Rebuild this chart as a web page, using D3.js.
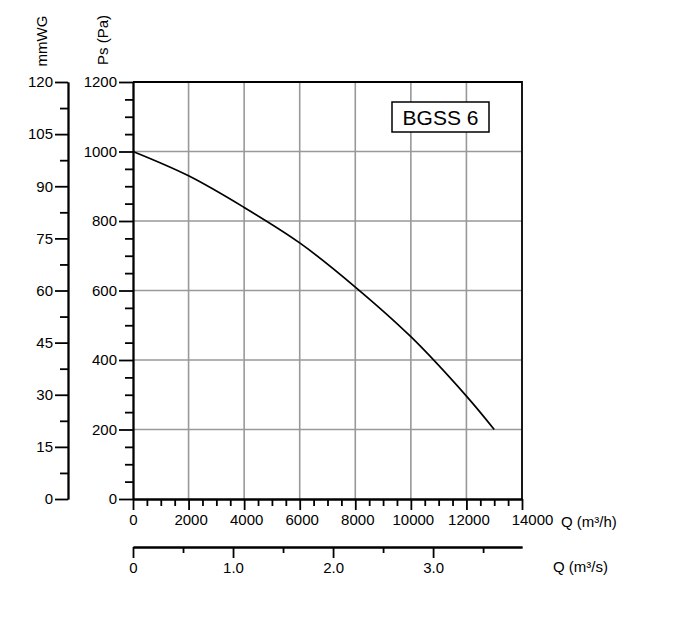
<!DOCTYPE html>
<html>
<head>
<meta charset="utf-8">
<script src="https://cdn.jsdelivr.net/npm/d3@7"></script>
<style>
  body { margin: 0; background: #fff; }
  text { font-family: "Liberation Sans", Arial, sans-serif; fill: #000; }
</style>
</head>
<body>
<svg id="chart" width="673" height="623"></svg>
<script>
'use strict';

// data
const flowM3h = [0, 2000, 4000, 6000, 8000, 10000, 12000, 13000];
const pressurePa = [1000, 930, 839, 737, 610, 467, 296, 200];
const paTicks = [0, 200, 400, 600, 800, 1000, 1200];
const mmTicks = [0, 15, 30, 45, 60, 75, 90, 105, 120];
const qhTicks = [0, 2000, 4000, 6000, 8000, 10000, 12000, 14000];
const qsTicks = [0, 1, 2, 3];
const modelName = 'BGSS 6';

const plotL = 133, plotR = 522, plotT = 82, plotB = 499;
const fontSize = '15px';

const svg = d3.select('#chart');

const x = d3.scaleLinear().domain([0, 14000]).range([plotL, plotR]);
const y = d3.scaleLinear().domain([0, 1200]).range([plotB, plotT]);
const yMm = d3.scaleLinear().domain([0, 120]).range([plotB, plotT]);
const xs = d3.scaleLinear().domain([0, 14000 / 3600]).range([plotL, plotR]);

// grid
const grid = svg.append('g').attr('stroke', '#999').attr('stroke-width', 1.6);
grid.selectAll('line.v')
  .data(qhTicks.slice(1, -1))
  .join('line')
  .attr('class', 'v')
  .attr('x1', d => x(d)).attr('x2', d => x(d))
  .attr('y1', plotT).attr('y2', plotB);
grid.selectAll('line.h')
  .data(paTicks.slice(1, -1))
  .join('line')
  .attr('class', 'h')
  .attr('x1', plotL).attr('x2', plotR)
  .attr('y1', d => y(d)).attr('y2', d => y(d));

// top and right border
svg.append('path')
  .attr('d', `M${plotL},${plotT}H${plotR}V${plotB}`)
  .attr('fill', 'none').attr('stroke', '#000').attr('stroke-width', 1.8);

function styleAxis(g) {
  g.selectAll('path, line').attr('stroke', '#000').attr('stroke-width', 1.8);
  g.selectAll('text')
    .style('font-family', '"Liberation Sans", Arial, sans-serif')
    .style('font-size', fontSize).attr('fill', '#000');
}

// Ps (Pa) axis
svg.append('g').attr('transform', `translate(${plotL},0)`)
  .call(d3.axisLeft(y).tickValues(d3.range(50, 1200, 50).filter(d => d % 200))
    .tickSize(8).tickFormat('').tickSizeOuter(0))
  .call(styleAxis);
svg.append('g').attr('transform', `translate(${plotL},0)`)
  .call(d3.axisLeft(y).tickValues(paTicks).tickSize(14).tickPadding(2)
    .tickFormat(d3.format('d')).tickSizeOuter(0))
  .call(styleAxis);

// mmWG axis
svg.append('g').attr('transform', 'translate(68,0)')
  .call(d3.axisLeft(yMm).tickValues(d3.range(7.5, 120, 15)).tickSize(8).tickFormat('').tickSizeOuter(0))
  .call(styleAxis);
svg.append('g').attr('transform', 'translate(68,0)')
  .call(d3.axisLeft(yMm).tickValues(mmTicks).tickSize(13).tickPadding(2).tickSizeOuter(0))
  .call(styleAxis);

// Q (m3/h) axis
svg.append('g').attr('transform', `translate(0,${plotB})`)
  .call(d3.axisBottom(x).tickValues(d3.range(500, 14000, 500).filter(d => d % 2000))
    .tickSize(7).tickFormat('').tickSizeOuter(0))
  .call(styleAxis);
const qh = svg.append('g').attr('transform', `translate(0,${plotB})`)
  .call(d3.axisBottom(x).tickValues(qhTicks).tickSize(11).tickPadding(4)
    .tickFormat(d3.format('d')).tickSizeOuter(0))
  .call(styleAxis);
qh.selectAll('.tick text').attr('dx', d => d === 14000 ? 10 : (d === 0 ? 0 : 2));

// Q (m3/s) axis
const sy = 547;
svg.append('g').attr('transform', `translate(0,${sy})`)
  .call(d3.axisBottom(xs).tickValues([0.5, 1.5, 2.5, 3.5]).tickSize(6).tickFormat('').tickSizeOuter(0))
  .call(styleAxis);
svg.append('g').attr('transform', `translate(0,${sy})`)
  .call(d3.axisBottom(xs).tickValues(qsTicks).tickSize(11).tickPadding(4)
    .tickFormat(d => d === 0 ? '0' : d3.format('.1f')(d)).tickSizeOuter(0))
  .call(styleAxis);

// axis titles
svg.append('text').attr('x', 561).attr('y', 527)
  .style('font-size', fontSize).text('Q (m³/h)');
svg.append('text').attr('x', 553).attr('y', 572)
  .style('font-size', fontSize).text('Q (m³/s)');
svg.append('text').attr('transform', 'translate(47,41) rotate(-90)')
  .attr('text-anchor', 'middle').style('font-size', fontSize).text('mmWG');
svg.append('text').attr('transform', 'translate(108,40) rotate(-90)')
  .attr('text-anchor', 'middle').style('font-size', fontSize).text('Ps (Pa)');

// curve
const line = d3.line()
  .x(d => x(d[0]))
  .y(d => y(d[1]))
  .curve(d3.curveCatmullRom);
svg.append('path')
  .datum(d3.zip(flowM3h, pressurePa))
  .attr('d', line)
  .attr('fill', 'none').attr('stroke', '#000').attr('stroke-width', 1.7);

// model label
svg.append('rect').attr('x', 392).attr('y', 102).attr('width', 97).attr('height', 30)
  .attr('fill', '#fff').attr('stroke', '#000').attr('stroke-width', 1.5);
svg.append('text').attr('x', 440.5).attr('y', 124.5).attr('text-anchor', 'middle')
  .style('font-size', '21px').text(modelName);
</script>
</body>
</html>
